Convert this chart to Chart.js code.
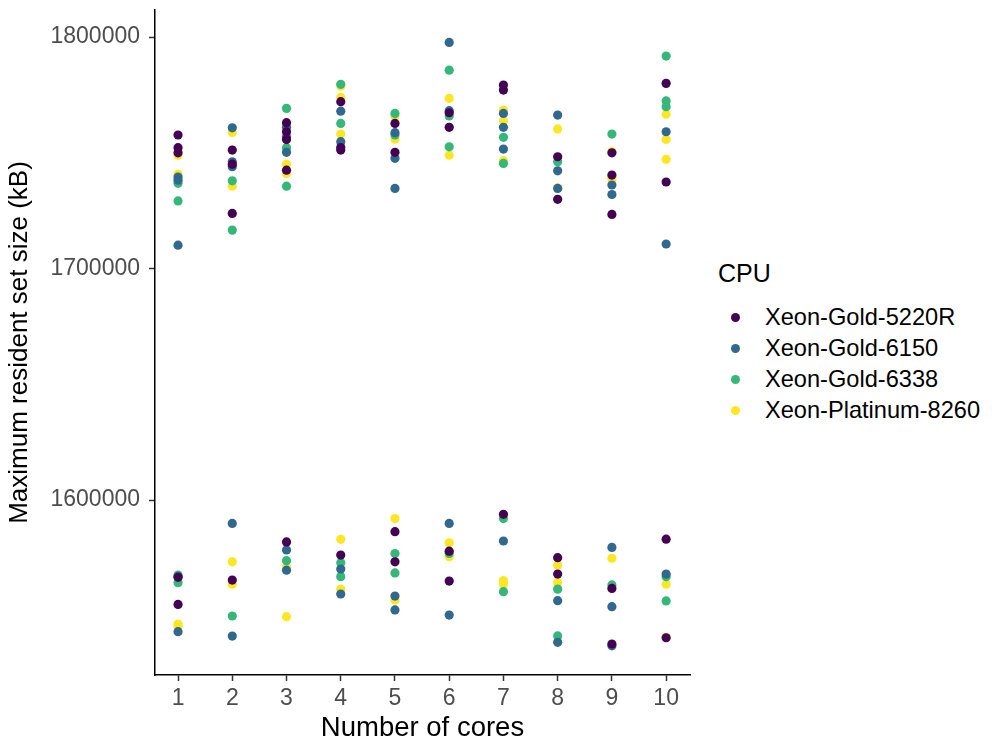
<!DOCTYPE html>
<html>
<head>
<meta charset="utf-8">
<script src="https://cdn.jsdelivr.net/npm/chart.js@4"></script>
<style>
  body { margin: 0; background: #fff; font-family: "Liberation Sans", Arial, sans-serif; }
  #wrap { position: relative; width: 992px; height: 745px; }
  #box { position: absolute; left: 0; top: 0; width: 700px; height: 745px; }
  #legend { position: absolute; left: 718px; top: 258px; color: #000; }
  #legend .title { font-size: 25px; line-height: 30px; margin-bottom: 14px; }
  #legend .item { font-size: 23.6px; line-height: 31px; height: 31px; position: relative; padding-left: 47px; }
  #legend .dot { position: absolute; left: 13px; top: 11px; width: 9px; height: 9px; border-radius: 50%; }
</style>
</head>
<body>
<div id="wrap">
  <div id="box"><canvas id="chart" width="700" height="745"></canvas></div>
  <div id="legend"></div>
</div>
<script>
// x categories: number of cores
const cores = [1, 2, 3, 4, 5, 6, 7, 8, 9, 10];

// max RSS (kB) per core count, one list per CPU
const gold5220R = [
    [1757700, 1752200, 1750000, 1566600, 1554900],
    [1751200, 1745100, 1723800, 1565400],
    [1763000, 1759100, 1755800, 1742500, 1581900],
    [1772100, 1752300, 1751200, 1576200],
    [1762700, 1750200, 1586300, 1573300],
    [1767300, 1761000, 1577900, 1565000],
    [1779300, 1777100, 1593800],
    [1748300, 1729900, 1575100, 1568000],
    [1750000, 1740400, 1723400, 1561800, 1537800],
    [1780000, 1737400, 1583100, 1540500]
];
const gold6150 = [
    [1738200, 1739500, 1710100, 1567000, 1543100],
    [1760800, 1746100, 1744000, 1589900, 1541200],
    [1761000, 1756900, 1750200, 1578400, 1569700],
    [1768000, 1754800, 1570200, 1559400],
    [1758700, 1747600, 1734600, 1558500, 1552500],
    [1797700, 1768200, 1589900, 1550300],
    [1767000, 1761000, 1751600, 1582300],
    [1766300, 1742200, 1734600, 1556500, 1538500],
    [1736100, 1732000, 1579500, 1553900, 1537000],
    [1759100, 1710600, 1568000]
];
const gold6338 = [
    [1736800, 1729200, 1567600, 1564300],
    [1737900, 1716600, 1549900],
    [1769200, 1752200, 1735600, 1573800],
    [1779600, 1762700, 1572900, 1566900],
    [1767000, 1757700, 1576900, 1568500],
    [1785700, 1765900, 1752600, 1576900],
    [1756700, 1745400, 1592000, 1560400],
    [1746100, 1561500, 1541300],
    [1758100, 1563300],
    [1791800, 1772400, 1769900, 1566900, 1556400]
];
const platinum8260 = [
    [1749000, 1740700, 1546400, 1545300],
    [1758800, 1735600, 1573300, 1563600],
    [1745100, 1741100, 1570900, 1549600],
    [1778800, 1774000, 1758100, 1583000, 1561500],
    [1765600, 1755900, 1592000, 1556800],
    [1773500, 1749000, 1581500, 1575500],
    [1768500, 1763700, 1746600, 1565200, 1563700],
    [1760300, 1734900, 1571900, 1564400],
    [1750500, 1739700, 1738500, 1574800],
    [1766700, 1755800, 1747200, 1563600, 1540700]
];

const cpuNames = ["Xeon-Gold-5220R", "Xeon-Gold-6150", "Xeon-Gold-6338", "Xeon-Platinum-8260"];
const cpuColors = ["#440154", "#31688E", "#35B779", "#FDE725"];
const yTicks = [1600000, 1700000, 1800000];

function toPoints(series) {
    const pts = [];
    series.forEach((vals, i) => vals.forEach(v => pts.push({ x: cores[i], y: v })));
    return pts;
}

const datasets = [gold5220R, gold6150, gold6338, platinum8260].map((s, i) => ({
    label: cpuNames[i],
    data: toPoints(s),
    backgroundColor: cpuColors[i],
    borderWidth: 0,
    pointRadius: 4.6,
    pointHoverRadius: 4.6
}));

// legend on the right, html
const legend = document.getElementById("legend");
legend.innerHTML = '<div class="title">CPU</div>' + cpuNames.map((n, i) =>
    `<div class="item"><span class="dot" style="background:${cpuColors[i]}"></span>${n}</div>`).join("");

const font = "'Liberation Sans', Arial, sans-serif";

new Chart(document.getElementById("chart"), {
    type: "scatter",
    data: { datasets: datasets },
    options: {
        responsive: false,
        animation: false,
        layout: { padding: { top: 10, right: 10, left: 0, bottom: 0 } },
        plugins: { legend: { display: false }, tooltip: { enabled: false } },
        scales: {
            x: {
                type: "linear",
                min: 0.575,
                max: 10.44,
                afterBuildTicks: axis => { axis.ticks = cores.map(v => ({ value: v })); },
                afterFit: axis => { axis.height = 70; axis.paddingLeft = 0; axis.paddingRight = 0; },
                grid: { display: true, drawOnChartArea: false, drawTicks: true, tickLength: 6, tickWidth: 1.5, tickColor: "#333" },
                border: { display: true, color: "#000", width: 1.5 },
                ticks: { color: "#4d4d4d", font: { family: font, size: 23 }, padding: 4, maxRotation: 0, autoSkip: false },
                title: { display: true, text: "Number of cores", color: "#000", font: { family: font, size: 27.5 }, padding: { top: 0, bottom: 0 } }
            },
            y: {
                min: 1524400,
                max: 1811700,
                afterBuildTicks: axis => { axis.ticks = yTicks.map(v => ({ value: v })); },
                // keep the plot box fixed, labels may overhang
                afterFit: axis => { axis.width = 155; axis.paddingTop = 0; axis.paddingBottom = 0; },
                grid: { display: true, drawOnChartArea: false, drawTicks: true, tickLength: 6, tickWidth: 1.5, tickColor: "#333" },
                border: { display: true, color: "#000", width: 1.5 },
                ticks: { color: "#4d4d4d", font: { family: font, size: 23 }, padding: 9, callback: v => String(v) },
                title: { display: true, text: "Maximum resident set size (kB)", color: "#000", font: { family: font, size: 26 }, padding: { top: 4, bottom: 0 } }
            }
        }
    }
});
</script>
</body>
</html>
